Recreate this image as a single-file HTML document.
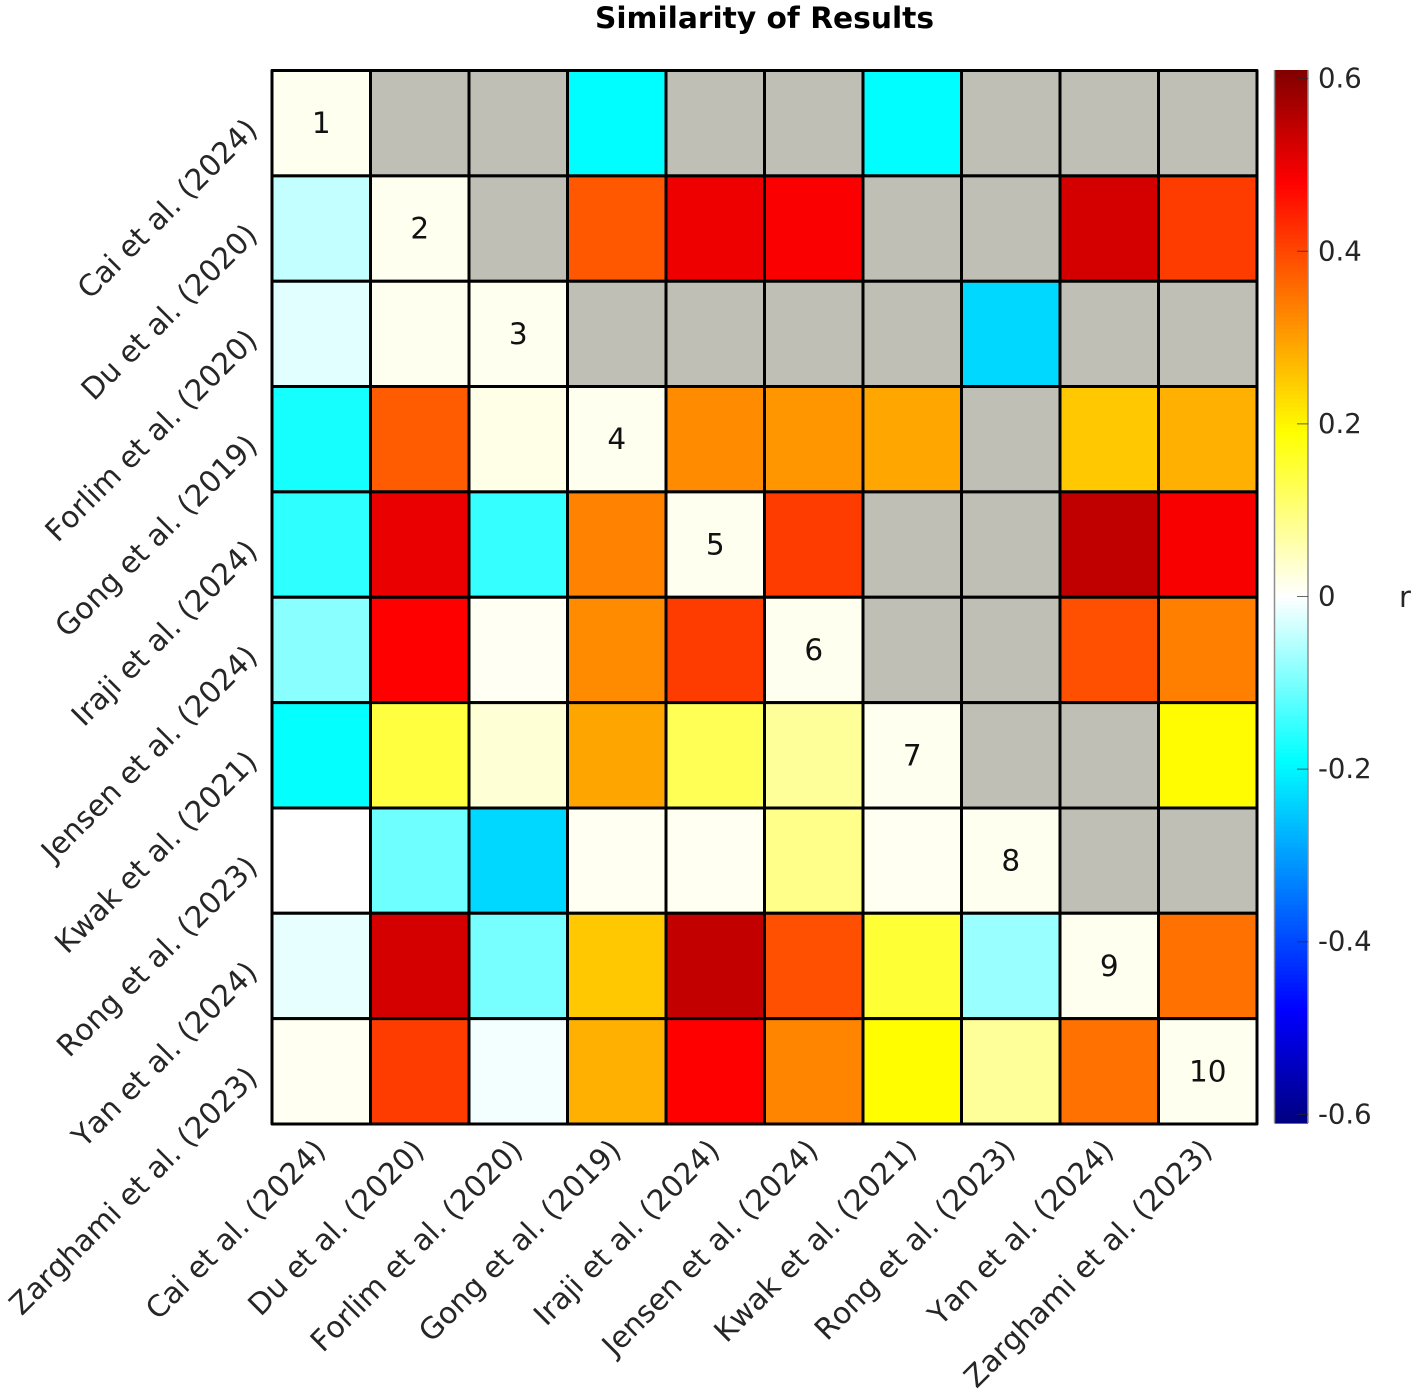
<!DOCTYPE html>
<html lang="en">
<head>
<meta charset="utf-8">
<title>Similarity of Results</title>
<style>
html,body{margin:0;padding:0;background:#fff;}
svg{display:block;}
text{font-family:"DejaVu Sans","Liberation Sans",sans-serif;font-kerning:none;}
</style>
</head>
<body>
<svg id="chart" xmlns="http://www.w3.org/2000/svg" width="1418" height="1397" viewBox="0 0 1418 1397">
<rect width="1418" height="1397" fill="#ffffff"/>
<text x="764.5" y="28" text-anchor="middle" font-size="29.7" font-weight="700" fill="#000">Similarity of Results</text>
<text x="1399" y="607" font-size="29" fill="#262626">r</text>
<g id="cells"></g>
<g id="xlabels"></g>
<g id="ylabels"></g>
<g id="colorbar"></g>
</svg>
<script>
const studies = ["Cai et al. (2024)","Du et al. (2020)","Forlim et al. (2020)","Gong et al. (2019)","Iraji et al. (2024)","Jensen et al. (2024)","Kwak et al. (2021)","Rong et al. (2023)","Yan et al. (2024)","Zarghami et al. (2023)"];
const row1 = [0.011,null,null,-0.192,null,null,-0.192,null,null,null];
const row2 = [-0.044,0.011,null,0.38,0.496,0.484,null,null,0.524,0.412];
const row3 = [-0.022,0.011,0.011,null,null,null,null,-0.234,null,null];
const row4 = [-0.174,0.377,0.017,0.011,0.321,0.309,0.291,null,0.252,0.28];
const row5 = [-0.156,0.501,-0.15,0.332,0.011,0.412,null,null,0.544,0.486];
const row6 = [-0.087,0.48,0.009,0.321,0.412,0.011,null,null,0.39,0.334];
const row7 = [-0.187,0.142,0.031,0.292,0.127,0.076,0.011,null,null,0.195];
const row8 = [0,-0.108,-0.234,0.01,0.01,0.088,0.01,0.011,null,null];
const row9 = [-0.017,0.524,-0.101,0.252,0.542,0.39,0.15,-0.076,0.011,0.352];
const row10 = [0.01,0.412,-0.009,0.28,0.48,0.33,0.192,0.076,0.352,0.011];
const matrix = [row1,row2,row3,row4,row5,row6,row7,row8,row9,row10];
const colorbarTicks = [0.6,0.4,0.2,0,-0.2,-0.4,-0.6];
const colorLimit = 0.61;

const NS = "http://www.w3.org/2000/svg";
const plot = {left:272, right:1257, top:70.5, bottom:1124};
const bar = {left:1274.5, right:1308, top:70, bottom:1123};
const xPos = i => plot.left + (plot.right - plot.left) * i / studies.length;
const yPos = i => plot.top + (plot.bottom - plot.top) * i / studies.length;
const barY = v => (bar.top + bar.bottom) / 2 - v * (bar.bottom - bar.top) / (2 * colorLimit);

function colorOf(v){
  const a = Math.min(Math.abs(v), colorLimit);
  const knee1 = 0.19;
  const knee2 = 0.48;
  let hi, mid, lo;
  if (a <= knee1) { hi = 255; mid = 255; lo = 255 * (1 - a / knee1); }
  else if (a <= knee2) { hi = 255; mid = 255 * (knee2 - a) / (knee2 - knee1); lo = 0; }
  else { hi = 255 - 127 * (a - knee2) / (colorLimit - knee2); mid = 0; lo = 0; }
  const c = v >= 0 ? [hi, mid, lo] : [lo, mid, hi];
  return "rgb(" + c.map(Math.round).join(",") + ")";
}
function make(tag, attrs, parent){
  const el = document.createElementNS(NS, tag);
  for (const k in attrs) el.setAttribute(k, attrs[k]);
  parent.appendChild(el);
  return el;
}

const cellsG = document.getElementById("cells");
matrix.forEach((row, r) => {
  row.forEach((v, c) => {
    const rect = make("rect", {x:xPos(c), y:yPos(r), width:xPos(c+1)-xPos(c), height:yPos(r+1)-yPos(r), fill: v === null ? "#bfbfb5" : colorOf(v), stroke:"#000", "stroke-width":3, "stroke-linejoin":"round"}, cellsG);
    
    
  });
});
studies.forEach((s, i) => {
  const cx = (xPos(i) + xPos(i+1)) / 2;
  const cy = (yPos(i) + yPos(i+1)) / 2;
  const d = make("text", {x:cx, y:cy+10, "text-anchor":"middle", "font-size":29.5, fill:"#111"}, cellsG);
  d.textContent = String(i + 1);
  
  
});

const xG = document.getElementById("xlabels");
studies.forEach((s, i) => {
  const ax = (xPos(i) + xPos(i+1)) / 2 + 6;
  const ay = plot.bottom + 28;
  const t = make("text", {x:ax, y:ay, "text-anchor":"end", "font-size":29.6, fill:"#262626", transform:"rotate(-45 " + ax + " " + ay + ")"}, xG);
  t.textContent = s;
  
  
});
const yG = document.getElementById("ylabels");
studies.forEach((s, i) => {
  const ax = plot.left - 13;
  const ay = (yPos(i) + yPos(i+1)) / 2 + 8;
  const t = make("text", {x:ax, y:ay, "text-anchor":"end", "font-size":29.6, fill:"#262626", transform:"rotate(-45 " + ax + " " + ay + ")"}, yG);
  t.textContent = s;
  
  
});

const cbG = document.getElementById("colorbar");
const steps = 256;
for (let i = 0; i < steps; i++) {
  const v = colorLimit - (i + 0.5) * 2 * colorLimit / steps;
  const y0 = bar.top + (bar.bottom - bar.top) * i / steps;
  const s = make("rect", {x:bar.left, y:y0, width:bar.right-bar.left, height:(bar.bottom-bar.top)/steps+0.6, fill:colorOf(v)}, cbG);
  
  
}
const edgeLeft = make("line", {x1:bar.left, x2:bar.left, y1:bar.top, y2:bar.bottom, stroke:"#8f8f8f", "stroke-width":1.5}, cbG);


const edgeRight = make("line", {x1:bar.right, x2:bar.right, y1:bar.top, y2:bar.bottom, stroke:"#8f8f8f", "stroke-width":1.5}, cbG);


colorbarTicks.forEach(v => {
  const y = barY(v);
  const line = make("line", {x1:bar.right-11, x2:bar.right, y1:y, y2:y, stroke:"#262626", "stroke-opacity":0.7, "stroke-width":1}, cbG);
  
  
  const t = make("text", {x:1318, y:y+9, "font-size":27.5, fill:"#262626"}, cbG);
  t.textContent = String(v);
  
  
});
</script>
</body>
</html>
